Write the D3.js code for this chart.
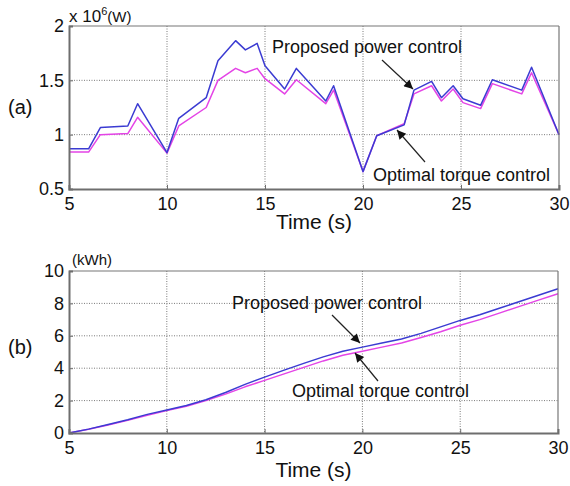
<!DOCTYPE html>
<html>
<head>
<meta charset="utf-8">
<script src="https://cdn.jsdelivr.net/npm/d3@7"></script>
<style>
  html, body { margin: 0; padding: 0; background: #fff; }
  svg { display: block; font-family: "Liberation Sans", Arial, sans-serif; }
</style>
</head>
<body>
<svg id="chart" width="570" height="486"></svg>
<script>
// (a) electrical power, x 10^6 W
const powerTime = [5, 6, 6.6, 8.0, 8.5, 10, 10.6, 12.0, 12.6, 13.5, 14.0, 14.6, 15.0, 16.0, 16.6, 18.1, 18.5, 20.0, 20.7, 22.1, 22.6, 23.5, 24.0, 24.6, 25.1, 26.0, 26.6, 28.1, 28.6, 30];
const powerProposed = [0.87, 0.87, 1.065, 1.08, 1.285, 0.835, 1.15, 1.34, 1.68, 1.865, 1.78, 1.84, 1.635, 1.42, 1.61, 1.31, 1.45, 0.66, 0.99, 1.09, 1.41, 1.49, 1.34, 1.45, 1.33, 1.27, 1.505, 1.41, 1.62, 1.0];
const powerOptimal = [0.84, 0.84, 1.0, 1.01, 1.16, 0.83, 1.08, 1.25, 1.5, 1.61, 1.57, 1.61, 1.515, 1.375, 1.505, 1.285, 1.41, 0.66, 0.99, 1.1, 1.375, 1.45, 1.31, 1.42, 1.295, 1.24, 1.47, 1.375, 1.57, 1.0];

// (b) generated energy, kWh
const energyTime = [5, 6, 7, 8, 9, 10, 11, 12, 13, 14, 15, 16, 17, 18, 19, 20, 21, 22, 23, 24, 25, 26, 27, 28, 29, 30];
const energyProposed = [0, 0.24, 0.52, 0.82, 1.15, 1.42, 1.7, 2.05, 2.5, 3.0, 3.45, 3.88, 4.3, 4.7, 5.05, 5.3, 5.55, 5.8, 6.15, 6.55, 6.95, 7.3, 7.7, 8.1, 8.5, 8.9];
const energyOptimal = [0, 0.23, 0.5, 0.78, 1.1, 1.38, 1.65, 2.0, 2.4, 2.85, 3.25, 3.65, 4.05, 4.45, 4.8, 5.05, 5.3, 5.55, 5.9, 6.25, 6.65, 7.0, 7.4, 7.8, 8.2, 8.6];

const timeTicks = [5, 10, 15, 20, 25, 30];
const powerTicks = [0.5, 1, 1.5, 2];
const powerTickLabels = ["0.5", "1", "1.5", "2"];
const energyTicks = [0, 2, 4, 6, 8, 10];

const seriesNames = ["Proposed power control", "Optimal torque control"];
const colorProposed = "#3b3bd2";
const colorOptimal = "#e444e6";

const svg = d3.select("#chart");

const defs = svg.append("defs");
defs.append("marker")
  .attr("id", "arrowhead")
  .attr("viewBox", "0 0 10 10")
  .attr("refX", 10).attr("refY", 5)
  .attr("markerWidth", 12).attr("markerHeight", 9)
  .attr("markerUnits", "userSpaceOnUse")
  .attr("orient", "auto")
  .append("path")
  .attr("d", "M0,0 L10,5 L0,10 Z")
  .attr("fill", "#111");

function panel(cfg) {
  const x = d3.scaleLinear().domain([5, 30]).range([cfg.left, cfg.right]);
  const y = d3.scaleLinear().domain(cfg.yDomain).range([cfg.bottom, cfg.top]);
  const g = svg.append("g");

  // dotted grid
  g.append("g").selectAll("line").data(timeTicks.slice(1, -1)).join("line")
    .attr("x1", d => x(d)).attr("x2", d => x(d))
    .attr("y1", cfg.top).attr("y2", cfg.bottom)
    .attr("stroke", "#7a7a7a").attr("stroke-width", 1).attr("stroke-dasharray", "1,1.5");
  g.append("g").selectAll("line").data(cfg.yTicks.slice(1, -1)).join("line")
    .attr("x1", cfg.left).attr("x2", cfg.right)
    .attr("y1", d => y(d)).attr("y2", d => y(d))
    .attr("stroke", "#7a7a7a").attr("stroke-width", 1).attr("stroke-dasharray", "1,1.5");

  // series
  const line = d3.line().x(d => x(d[0])).y(d => y(d[1]));
  g.append("path").datum(d3.zip(cfg.t, cfg.optimal))
    .attr("d", line).attr("fill", "none")
    .attr("stroke", colorOptimal).attr("stroke-width", 1.5).attr("stroke-linejoin", "round");
  g.append("path").datum(d3.zip(cfg.t, cfg.proposed))
    .attr("d", line).attr("fill", "none")
    .attr("stroke", colorProposed).attr("stroke-width", 1.5).attr("stroke-linejoin", "round");

  // frame
  g.append("line").attr("x1", cfg.left).attr("x2", cfg.right).attr("y1", cfg.top).attr("y2", cfg.top)
    .attr("stroke", "#777").attr("stroke-width", 1.2);
  g.append("line").attr("x1", cfg.right).attr("x2", cfg.right).attr("y1", cfg.top).attr("y2", cfg.bottom)
    .attr("stroke", "#777").attr("stroke-width", 1.2);

  // axes
  const xAxis = g.append("g").attr("transform", `translate(0,${cfg.bottom})`)
    .call(d3.axisBottom(x).tickValues(timeTicks).tickSize(-4).tickPadding(8).tickFormat(d3.format("d")));
  const yAxis = g.append("g").attr("transform", `translate(${cfg.left},0)`)
    .call(d3.axisLeft(y).tickValues(cfg.yTicks).tickSize(-4).tickPadding(5)
      .tickFormat((d, i) => cfg.yLabels[i]));
  [xAxis, yAxis].forEach(a => {
    a.select(".domain").attr("stroke", "#6e6e6e").attr("stroke-width", 2);
    a.selectAll(".tick line").attr("stroke", "#6e6e6e");
    a.selectAll("text").attr("fill", "#111").attr("font-size", 18)
      .attr("font-family", "Liberation Sans, Arial, sans-serif");
  });
  xAxis.selectAll("text").attr("dy", "0.71em");

  g.append("text").attr("x", (cfg.left + cfg.right) / 2).attr("y", cfg.titleY)
    .attr("text-anchor", "middle").attr("font-size", 21).attr("fill", "#111")
    .text("Time (s)");

  g.append("text").attr("x", 8).attr("y", cfg.tagY)
    .attr("font-size", 20).attr("fill", "#111").text(cfg.tag);

  // annotations
  cfg.notes.forEach(n => {
    g.append("text").attr("x", n.tx).attr("y", n.ty)
      .attr("font-size", 18).attr("fill", "#111").text(n.text);
    g.append("line")
      .attr("x1", n.a[0]).attr("y1", n.a[1]).attr("x2", n.a[2]).attr("y2", n.a[3])
      .attr("stroke", "#222").attr("stroke-width", 1.2)
      .attr("marker-end", "url(#arrowhead)");
  });
  return { x, y, g };
}

const panelA = panel({
  left: 69, right: 559, top: 26, bottom: 189,
  yDomain: [0.5, 2], yTicks: powerTicks, yLabels: powerTickLabels,
  t: powerTime, proposed: powerProposed, optimal: powerOptimal,
  titleY: 229, tag: "(a)", tagY: 114,
  notes: [
    { text: seriesNames[0], tx: 272, ty: 53, a: [382, 60, 413, 89] },
    { text: seriesNames[1], tx: 373, ty: 181, a: [425, 162, 397, 130] }
  ]
});
// unit label above the power axis
const unitA = panelA.g.append("text").attr("x", 69).attr("y", 22).attr("fill", "#111")
  .attr("font-size", 17);
unitA.append("tspan").text("x 10");
unitA.append("tspan").attr("font-size", 11).attr("dy", -7).text("6");
unitA.append("tspan").attr("font-size", 15).attr("dy", 7).text("(W)");

const panelB = panel({
  left: 69, right: 558, top: 271, bottom: 433,
  yDomain: [0, 10], yTicks: energyTicks, yLabels: energyTicks.map(String),
  t: energyTime, proposed: energyProposed, optimal: energyOptimal,
  titleY: 477, tag: "(b)", tagY: 354,
  notes: [
    { text: seriesNames[0], tx: 232, ty: 309, a: [332, 315, 360, 343] },
    { text: seriesNames[1], tx: 292, ty: 397, a: [378, 381, 355, 353] }
  ]
});
panelB.g.append("text").attr("x", 72).attr("y", 265).attr("fill", "#111")
  .attr("font-size", 15).text("(kWh)");
</script>
</body>
</html>
